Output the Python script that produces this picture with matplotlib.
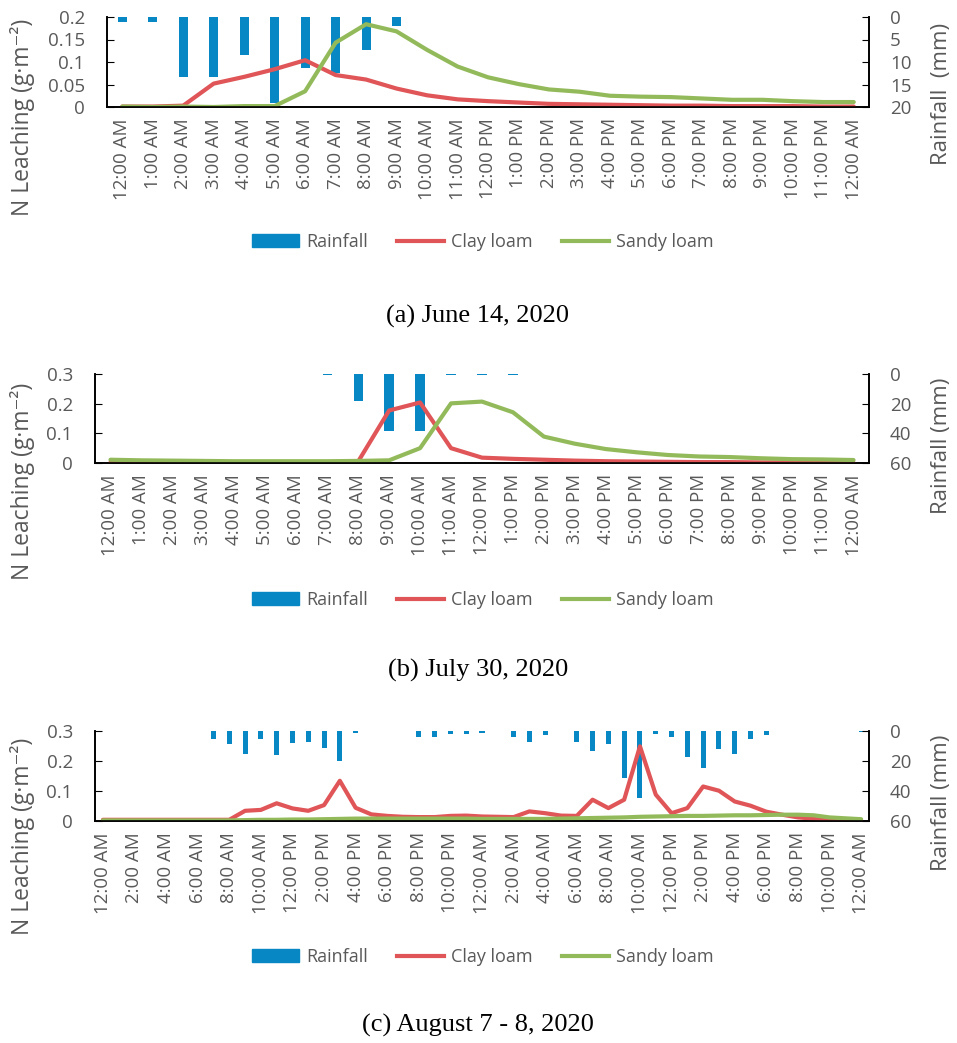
import matplotlib
matplotlib.use("Agg")
import matplotlib.pyplot as plt
from matplotlib.patches import Patch
from matplotlib.lines import Line2D
from matplotlib.ticker import FuncFormatter

plt.rcParams['font.family'] = ['Open Sans', 'DejaVu Sans']

def hour_label(h):
    h = h % 24
    ap = "AM" if h < 12 else "PM"
    hh = h % 12
    if hh == 0:
        hh = 12
    return "{}:00 {}".format(hh, ap)

# hourly labels for one day (a, b) and two days (c)
hours_day = [hour_label(h) for h in range(25)]
hours_two_days = [hour_label(h) for h in range(49)]

# ---------- (a) June 14, 2020 ----------
rain_a = [1.0, 1.2, 13.3, 13.3, 8.4, 19.0, 11.4, 12.4, 7.4, 1.9, 0, 0, 0,
          0, 0, 0, 0, 0, 0, 0, 0, 0, 0, 0, 0]
clay_a = [0.001, 0.001, 0.003, 0.052, 0.067, 0.084, 0.104, 0.071, 0.061, 0.041,
          0.026, 0.017, 0.013, 0.010, 0.007, 0.006, 0.005, 0.004, 0.003, 0.003,
          0.002, 0.002, 0.002, 0.001, 0.001]
sandy_a = [0.001, 0.0, 0.001, 0.0, 0.002, 0.002, 0.035, 0.143, 0.184, 0.168,
           0.127, 0.090, 0.066, 0.051, 0.039, 0.034, 0.025, 0.023, 0.022, 0.019,
           0.016, 0.016, 0.013, 0.011, 0.011]

# ---------- (b) July 30, 2020 ----------
rain_b = [0, 0, 0, 0, 0, 0, 0, 1.0, 18.0, 38.7, 38.7, 1.0, 1.0, 0.5,
          0, 0, 0, 0, 0, 0, 0, 0, 0, 0, 0]
clay_b = [0.002, 0.002, 0.002, 0.002, 0.002, 0.002, 0.002, 0.002, 0.005, 0.177,
          0.204, 0.050, 0.018, 0.014, 0.011, 0.008, 0.006, 0.005, 0.004, 0.003,
          0.003, 0.002, 0.002, 0.001, 0.001]
sandy_b = [0.011, 0.009, 0.008, 0.007, 0.006, 0.006, 0.006, 0.006, 0.007, 0.009,
           0.050, 0.201, 0.207, 0.171, 0.089, 0.065, 0.047, 0.036, 0.027, 0.022,
           0.020, 0.016, 0.013, 0.012, 0.010]

# ---------- (c) August 7 - 8, 2020 ----------
rain_c = [0, 0, 0, 0, 0, 0, 0.3, 5.1, 8.4, 15.5, 5.1, 15.9, 8.0, 7.1, 11.3, 20.1,
          1.3, 0, 0.3, 0, 4.0, 4.0, 1.8, 1.8, 1.1, 0.3, 4.0, 7.1, 2.5, 0.3, 7.1,
          13.4, 8.9, 31.3, 44.6, 2.2, 4.0, 17.0, 24.6, 11.8, 15.2, 5.1, 2.5, 0,
          0, 0, 0, 0.3, 0.5]
clay_c = [0.004, 0.004, 0.004, 0.004, 0.004, 0.004, 0.004, 0.004, 0.004, 0.034,
          0.037, 0.059, 0.042, 0.034, 0.053, 0.134, 0.044, 0.022, 0.017, 0.014,
          0.013, 0.013, 0.017, 0.018, 0.015, 0.014, 0.013, 0.032, 0.026, 0.018,
          0.017, 0.071, 0.043, 0.071, 0.249, 0.088, 0.026, 0.043, 0.115, 0.101,
          0.065, 0.051, 0.031, 0.021, 0.012, 0.008, 0.004, 0.003, 0.003]
sandy_c = [0.002, 0.002, 0.002, 0.002, 0.002, 0.002, 0.002, 0.002, 0.002, 0.003,
           0.004, 0.004, 0.005, 0.005, 0.006, 0.007, 0.008, 0.008, 0.008, 0.008,
           0.008, 0.008, 0.008, 0.008, 0.007, 0.007, 0.007, 0.007, 0.007, 0.008,
           0.009, 0.010, 0.011, 0.012, 0.014, 0.015, 0.016, 0.017, 0.017, 0.018,
           0.019, 0.019, 0.020, 0.021, 0.021, 0.019, 0.012, 0.009, 0.006]

BLUE = "#0787C3"
RED = "#E05557"
GREEN = "#93BA5A"
GREY = "#595959"
FS = 13.5

W, H = 957, 1043
fig = plt.figure(figsize=(W / 100, H / 100), dpi=100)

panels = [
    dict(rain=rain_a, clay=clay_a, sandy=sandy_a, labels=hours_day, step=1,
         box=(107, 17, 869, 107), lmax=0.2, lticks=[0, 0.05, 0.1, 0.15, 0.2],
         rmax=20, rticks=[0, 5, 10, 15, 20], rlabel="Rainfall  (mm)",
         ly=117, ry=94, legy=242, cap="(a) June 14, 2020", capy=316),
    dict(rain=rain_b, clay=clay_b, sandy=sandy_b, labels=hours_day, step=1,
         box=(95, 374, 869, 463), lmax=0.3, lticks=[0, 0.1, 0.2, 0.3],
         rmax=60, rticks=[0, 20, 40, 60], rlabel="Rainfall (mm)",
         ly=481, ry=446, legy=600, cap="(b) July 30, 2020", capy=670),
    dict(rain=rain_c, clay=clay_c, sandy=sandy_c, labels=hours_two_days, step=2,
         box=(95, 731, 869, 821), lmax=0.3, lticks=[0, 0.1, 0.2, 0.3],
         rmax=60, rticks=[0, 20, 40, 60], rlabel="Rainfall (mm)",
         ly=836, ry=803, legy=957, cap="(c) August 7 - 8, 2020", capy=1025),
]

fmt = FuncFormatter(lambda v, p: "{:g}".format(v))

for p in panels:
    x0, y0, x1, y1 = p["box"]
    ax = fig.add_axes([x0 / W, 1 - y1 / H, (x1 - x0) / W, (y1 - y0) / H])
    ax2 = ax.twinx()
    n = len(p["clay"])
    xs = list(range(n))

    ax2.bar(xs, p["rain"], width=0.3 if p["step"] == 1 else 0.32, color=BLUE)
    ax2.set_ylim(p["rmax"], 0)
    ax.plot(xs, p["clay"], color=RED, lw=3, solid_capstyle="round")
    ax.plot(xs, p["sandy"], color=GREEN, lw=3, solid_capstyle="round")
    ax.set_ylim(0, p["lmax"])
    ax.set_xlim(-0.5, n - 0.5)
    ax.set_zorder(ax2.get_zorder() + 1)
    ax.patch.set_visible(False)

    ax.set_yticks(p["lticks"])
    ax.yaxis.set_major_formatter(fmt)
    ax2.set_yticks(p["rticks"])
    ax2.yaxis.set_major_formatter(fmt)
    ax.set_xticks(xs[::p["step"]])
    ax.set_xticklabels(p["labels"][::p["step"]], rotation=90, fontsize=FS, color=GREY)
    ax.tick_params(axis="x", length=0, pad=8)
    ax.tick_params(axis="y", direction="in", length=5, labelsize=FS, labelcolor=GREY, pad=16)
    ax2.tick_params(axis="y", direction="in", length=5, labelsize=FS, labelcolor=GREY, pad=15)

    for a in (ax, ax2):
        a.spines["top"].set_visible(False)
        for s in ("left", "right", "bottom"):
            a.spines[s].set_color("black")
            a.spines[s].set_linewidth(1.2)

    fig.text(23 / W, 1 - p["ly"] / H, "N Leaching (g·m⁻²)", rotation=90,
             ha="center", va="center", fontsize=16.5, color=GREY)
    fig.text(941 / W, 1 - p["ry"] / H, p["rlabel"], rotation=90,
             ha="center", va="center", fontsize=16, color=GREY)

    handles = [Patch(color=BLUE), Line2D([], [], color=RED, lw=3),
               Line2D([], [], color=GREEN, lw=3)]
    fig.legend(handles, ["Rainfall", "Clay loam", "Sandy loam"], loc="center",
               bbox_to_anchor=(483 / W, 1 - p["legy"] / H), ncol=3, frameon=False,
               fontsize=13, labelcolor=GREY, handlelength=2.6, handletextpad=0.4,
               columnspacing=1.6)
    fig.text(478 / W, 1 - p["capy"] / H, p["cap"], ha="center", va="center",
             fontsize=19, family=["Liberation Serif", "DejaVu Serif"])

fig.savefig("out.png", dpi=100)
